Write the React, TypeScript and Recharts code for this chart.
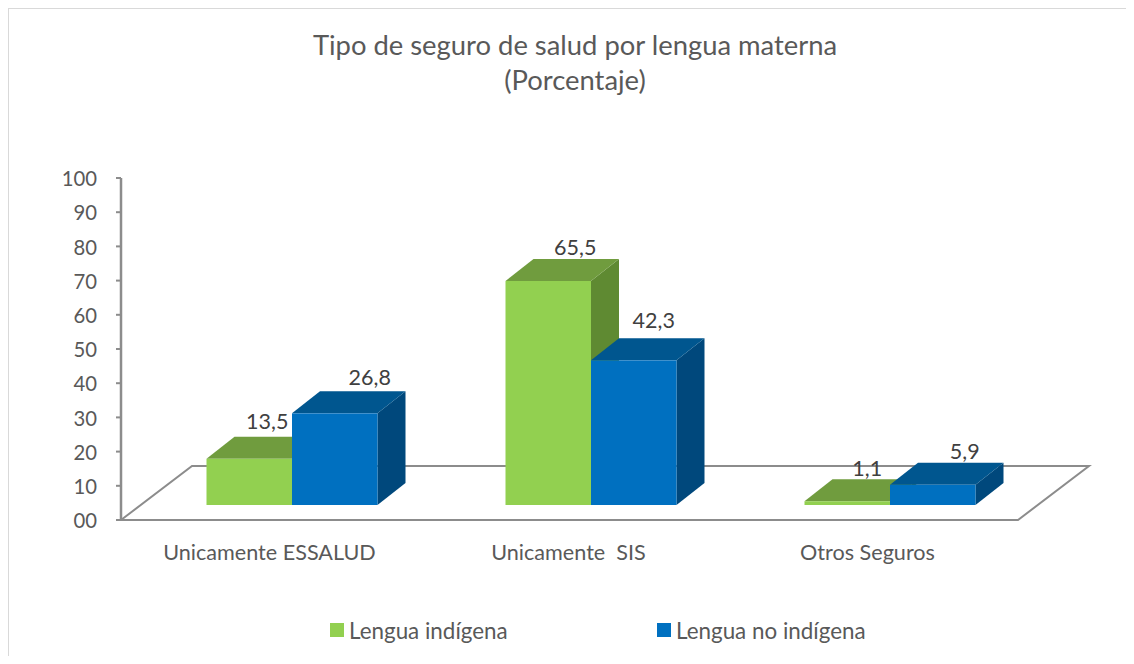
import React from 'react';
import { BarChart, Bar, XAxis, YAxis, Legend, LabelList, usePlotArea } from 'recharts';

const categories = ['Unicamente ESSALUD', 'Unicamente \u00a0SIS', 'Otros Seguros'];
const indigena = [13.5, 65.5, 1.1];
const noIndigena = [26.8, 42.3, 5.9];
const yTicks = [0, 10, 20, 30, 40, 50, 60, 70, 80, 90, 100];
const data = categories.map((name, i) => ({ name, indigena: indigena[i], noIndigena: noIndigena[i] }));

const FONT = 'Lato, sans-serif';
const TEXT = '#595959';
const AXIS = '#8c8c8c';
// 3D projection: front face of the bars sits part-way into the floor
const FRONT = { dx: 21.5, dy: -15 };
const DEPTH = { dx: 28, dy: -22 };
const FLOOR = { dx: 71, dy: -54 };
const GREEN = { front: '#92d050', top: '#709c3e', side: '#5f8a32' };
const BLUE = { front: '#0070c0', top: '#00568f', side: '#00487c' };
const greenNudge = [{ x: 18, y: -30 }, { x: 27, y: -26 }, { x: 20, y: -25 }];
const blueNudge = [{ x: 35, y: -28 }, { x: 20, y: -32 }, { x: 32, y: -26 }];

function makeBox(c: typeof GREEN) {
  return (p: any) => {
    const x = p.x + FRONT.dx;
    const y = p.y + FRONT.dy;
    const w = p.width;
    const h = p.height;
    const { dx, dy } = DEPTH;
    return (
      <g>
        <polygon points={`${x + w},${y} ${x + w + dx},${y + dy} ${x + w + dx},${y + h + dy} ${x + w},${y + h}`} fill={c.side} />
        <polygon points={`${x},${y} ${x + dx},${y + dy} ${x + w + dx},${y + dy} ${x + w},${y}`} fill={c.top} />
        <rect x={x} y={y} width={w} height={h} fill={c.front} />
      </g>
    );
  };
}

function makeLabel(nudge: { x: number; y: number }[]) {
  return (p: any) => {
    const n = nudge[p.index];
    return (
      <text
        x={p.x + FRONT.dx + p.width / 2 + n.x}
        y={p.y + FRONT.dy + n.y}
        textAnchor="middle"
        fontFamily={FONT}
        fontSize={21.5}
        fill="#404040"
      >
        {String(p.value).replace('.', ',')}
      </text>
    );
  };
}

function Floor() {
  const plot = usePlotArea();
  if (!plot) return null;
  const { x, y, width, height } = plot;
  const b = y + height;
  return (
    <polygon
      points={`${x},${b} ${x + FLOOR.dx},${b + FLOOR.dy} ${x + width + FLOOR.dx},${b + FLOOR.dy} ${x + width},${b}`}
      fill="#fff"
      stroke={AXIS}
      strokeWidth={2}
    />
  );
}

function LegendBox({ payload }: any) {
  const lefts = [322, 649];
  return (
    <div style={{ position: 'relative', height: 24, width: 1100 }}>
      {(payload || []).map((e: any, i: number) => (
        <div key={e.value} style={{ position: 'absolute', left: lefts[i], top: 0, display: 'flex', alignItems: 'center', height: 24, whiteSpace: 'nowrap' }}>
          <span style={{ width: 14, height: 14, background: e.color, marginRight: 5, display: 'inline-block' }} />
          <span style={{ fontFamily: FONT, fontSize: 22.4, color: TEXT }}>{e.value}</span>
        </div>
      ))}
    </div>
  );
}

export default function App() {
  return (
    <div style={{ width: 1118, height: 648, position: 'relative' }}>
      <div style={{ position: 'absolute', left: -1, top: -1, width: 1127, height: 2, background: '#d9d9d9' }} />
      <div style={{ position: 'absolute', left: -1, top: -1, width: 2, height: 657, background: '#d9d9d9' }} />
      <BarChart
        width={1118}
        height={648}
        data={data}
        margin={{ top: 170, right: 108, bottom: 96, left: 53 }}
        barSize={85.5}
        barGap={0}
      >
        <Floor />
        <XAxis
          dataKey="name"
          height={40}
          axisLine={{ stroke: AXIS, strokeWidth: 2 }}
          tickLine={false}
          tick={{ fontFamily: FONT, fontSize: 21.6, fill: TEXT, dy: 17, dx: -1 }}
          interval={0}
        />
        <YAxis
          width={60}
          orientation="left"
          domain={[0, 100]}
          ticks={yTicks}
          interval={0}
          axisLine={{ stroke: AXIS, strokeWidth: 2.5 }}
          tickLine={{ stroke: AXIS, strokeWidth: 2 }}
          tickSize={5}
          tickMargin={19}
          tickFormatter={(v: number) => (v === 0 ? '00' : String(v))}
          tick={{ fontFamily: FONT, fontSize: 20.3, fill: TEXT, dy: 1 }}
        />
        <Bar dataKey="indigena" name="Lengua indígena" fill={GREEN.front} shape={makeBox(GREEN)} isAnimationActive={false}>
          <LabelList dataKey="indigena" content={makeLabel(greenNudge)} />
        </Bar>
        <Bar dataKey="noIndigena" name="Lengua no indígena" fill={BLUE.front} shape={makeBox(BLUE)} isAnimationActive={false}>
          <LabelList dataKey="noIndigena" content={makeLabel(blueNudge)} />
        </Bar>
        <Legend
          layout="horizontal"
          align="center"
          verticalAlign="middle"
          content={LegendBox}
          wrapperStyle={{ position: 'absolute', left: 0, top: 610, width: 1100, height: 24 }}
        />
        <text x={567} y={47} textAnchor="middle" fontFamily={FONT} fontSize={27.4} fill={TEXT}>Tipo de seguro de salud por lengua materna</text>
        <text x={567} y={82} textAnchor="middle" fontFamily={FONT} fontSize={27.4} fill={TEXT}>(Porcentaje)</text>
      </BarChart>
    </div>
  );
}
